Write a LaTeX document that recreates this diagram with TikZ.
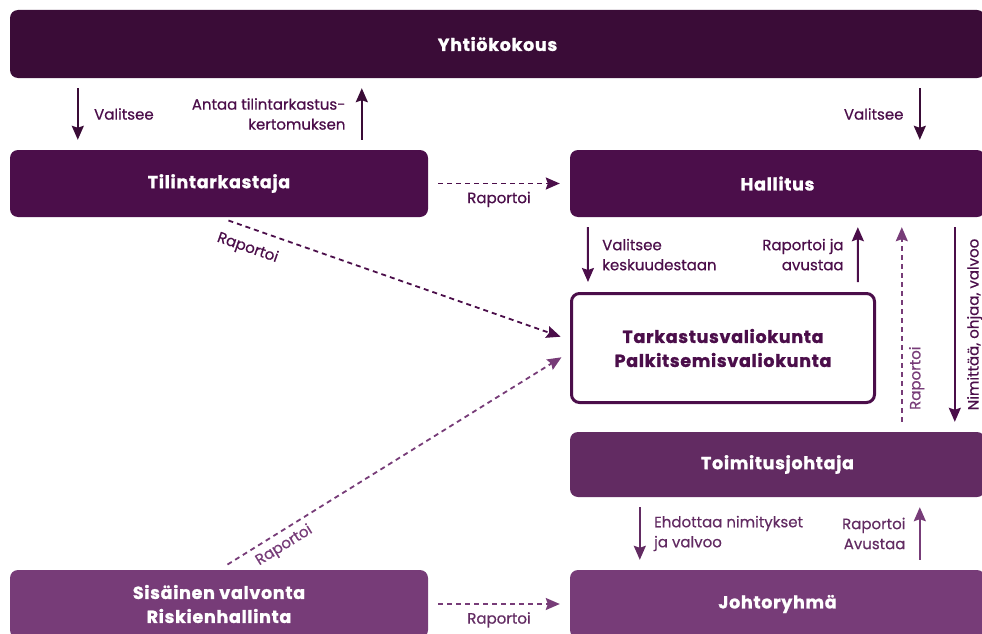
\documentclass[tikz,border=0pt]{standalone}
\usepackage{fontspec}
\setmainfont{Poppins}
\newfontfamily\titlefont{Poppins}[LetterSpace=4, FakeBold=1.2]
\newfontfamily\lblfont{Poppins}[FakeBold=0.5]
\usetikzlibrary{arrows.meta}
\definecolor{kokous}{HTML}{3A0C37}
\definecolor{hallitus}{HTML}{4B0E4A}
\definecolor{toimitus}{HTML}{622B62}
\definecolor{sisainen}{HTML}{773C78}
\tikzset{
	box/.style={rectangle, rounded corners=8pt, text=white, inner sep=0pt, align=center, font=\titlefont\bfseries\fontsize{17.5}{24}\selectfont},
	lbl/.style={font=\lblfont\fontsize{15}{20}\selectfont},
	arr/.style={-{Stealth[length=14pt,width=12pt,inset=2pt]}, line width=2pt, shorten <=10pt, shorten >=10pt},
	rarr/.style={{Stealth[length=14pt,width=12pt,inset=2pt]}-, line width=2pt, shorten <=10pt, shorten >=10pt},
	rap/.style={arr, dash pattern=on 5pt off 4pt, line width=1.8pt}
}
\begin{document}
\begin{tikzpicture}[x=1pt, y=-1pt]
	       		\useasboundingbox (0,0) rectangle (982,634);
	       		\clip (0,0) rectangle (982,634);
	       		\draw node[box, fill=kokous, minimum width=975pt, minimum height=68pt] at (497.5,44) (yk) {Yhtiökokous};
	       		\draw node[box, fill=hallitus, minimum width=418pt, minimum height=67pt] at (219,183.5) (tt) {Tilintarkastaja};
	       		\draw node[box, fill=hallitus, minimum width=415pt, minimum height=67pt] 
	       		[right of=tt, node distance=558.5pt] (hal) {Hallitus};
	       		\draw node[box, fill=white, draw=hallitus, line width=3pt, text=hallitus, minimum width=303pt, minimum height=109pt] 
	       		at (723,348) (tv) {Tarkastusvaliokunta\\Palkitsemisvaliokunta};
	       		\draw node[box, fill=toimitus, minimum width=415pt, minimum height=65pt] at (777.5,464.5) (toim) {Toimitusjohtaja};
	       		\draw node[box, fill=sisainen, minimum width=415pt, minimum height=68pt] 
	       		[below of=toim, node distance=139.5pt] (jr) {Johtoryhmä};
	       		\draw node[box, fill=sisainen, minimum width=418pt, minimum height=68pt] 
	       		[left of=jr, node distance=558.5pt] (sv) {Sisäinen valvonta\\Riskienhallinta};
	       		\draw[arr, kokous] ([xshift=68pt]yk.south west) -- node[lbl, right=12pt, text=hallitus] {Valitsee} ([xshift=68pt]tt.north west);
	       		\draw[arr, kokous] ([xshift=352pt]tt.north west) -- node[lbl, left=12pt, align=right, text=hallitus] {Antaa tilintarkastus-\\kertomuksen} ([xshift=352pt]yk.south west);
	       		\draw[arr, kokous] ([xshift=910pt]yk.south west) -- node[lbl, left=12pt, text=hallitus] {Valitsee} ([xshift=350pt]hal.north west);
	       		\draw[rap, hallitus] (tt) -- node[lbl, below=4pt] {Raportoi} (hal);
	       		\draw[rap, hallitus] (tt.south) -- node[lbl, sloped, below=8pt, pos=0.1] {Raportoi} ([yshift=8pt]tv.west);
	       		\draw[rap, sisainen] (sv.north) -- node[lbl, sloped, below=2pt, pos=0.165] {Raportoi} ([yshift=-4pt]tv.west);
	       		\draw[arr, hallitus] ([xshift=18pt]hal.south west) -- node[lbl, right=10pt, align=left] {Valitsee\\keskuudestaan} ([xshift=18pt]tv.north west);
	       		\draw[arr, hallitus] ([xshift=-18pt]tv.north east) -- node[lbl, left=10pt, align=right] {Raportoi ja\\avustaa} ([xshift=288pt]hal.south west);
	       		\draw[rap, sisainen] ([xshift=332pt]toim.north west) -- node[lbl, sloped, below=3pt, pos=0.25] {Raportoi} ([xshift=332pt]hal.south west);
	       		\draw[rarr, hallitus] ([xshift=385pt]toim.north west) -- node[lbl, sloped, below=8pt] {Nimittää, ohjaa, valvoo} ([xshift=385pt]hal.south west);
	       		\draw[arr, toimitus] ([xshift=70pt]toim.south west) -- node[lbl, right=10pt, align=left] {Ehdottaa nimitykset\\ja valvoo} ([xshift=70pt]jr.north west);
	       		\draw[arr, sisainen] ([xshift=350pt]jr.north west) -- node[lbl, left=10pt, align=right, text=toimitus] {Raportoi\\Avustaa} ([xshift=350pt]toim.south west);
	       		\draw[rap, sisainen] (sv) -- node[lbl, below=4pt, text=toimitus] {Raportoi} (jr);
	       	\end{tikzpicture}
\end{document}
